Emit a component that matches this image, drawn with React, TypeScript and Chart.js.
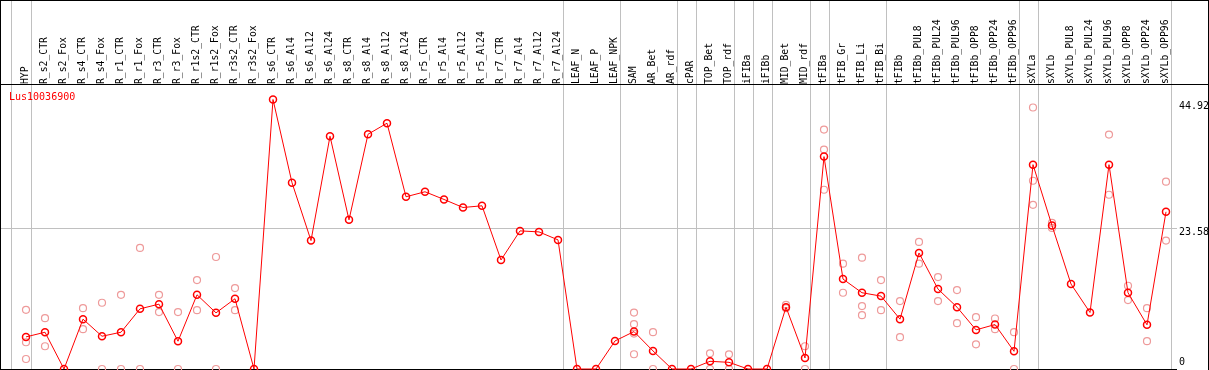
import React, { useEffect, useRef } from 'react';
import { Chart, registerables } from 'chart.js';

Chart.register(...registerables);

const _ = null;

const seriesName = 'Lus10036900';

const categories = [
  'HYP', 'R_s2_CTR', 'R_s2_Fox', 'R_s4_CTR', 'R_s4_Fox', 'R_r1_CTR', 'R_r1_Fox', 'R_r3_CTR', 'R_r3_Fox', 'R_r1s2_CTR',
  'R_r1s2_Fox', 'R_r3s2_CTR', 'R_r3s2_Fox', 'R_s6_CTR', 'R_s6_Al4', 'R_s6_Al12', 'R_s6_Al24', 'R_s8_CTR', 'R_s8_Al4', 'R_s8_Al12',
  'R_s8_Al24', 'R_r5_CTR', 'R_r5_Al4', 'R_r5_Al12', 'R_r5_Al24', 'R_r7_CTR', 'R_r7_Al4', 'R_r7_Al12', 'R_r7_Al24', 'LEAF_N',
  'LEAF_P', 'LEAF_NPK', 'SAM', 'AR_Bet', 'AR_rdf', 'cPAR', 'TOP_Bet', 'TOP_rdf', 'iFIBa', 'iFIBb',
  'MID_Bet', 'MID_rdf', 'tFIBa', 'tFIB_Gr', 'tFIB_Li', 'tFIB_Bi', 'tFIBb', 'tFIBb_PUL8', 'tFIBb_PUL24', 'tFIBb_PUL96',
  'tFIBb_OPP8', 'tFIBb_OPP24', 'tFIBb_OPP96', 'sXYLa', 'sXYLb', 'sXYLb_PUL8', 'sXYLb_PUL24', 'sXYLb_PUL96', 'sXYLb_OPP8', 'sXYLb_OPP24',
  'sXYLb_OPP96',
];

const meanValues = [
  5.35, 6.13, 0, 8.31, 5.46, 6.13, 10.03, 10.81, 4.63, 12.37,
  9.36, 11.71, 0, 44.92, 31.05, 21.4, 38.8, 24.86, 39.13, 40.97,
  28.71, 29.54, 28.26, 26.92, 27.2, 18.17, 23.02, 22.85, 21.52, 0,
  0, 4.68, 6.24, 3.01, 0, 0, 1.28, 1.11, 0, 0,
  10.31, 1.84, 35.4, 14.99, 12.71, 12.15, 8.31, 19.34, 13.32, 10.31,
  6.52, 7.41, 2.95, 34.06, 23.91, 14.16, 9.42, 34.06, 12.71, 7.36,
  26.2,
];

const replicate1 = [
  9.87, 8.47, _, 10.14, 11.04, 12.37, 20.18, 12.37, 9.48, 14.83,
  18.67, 13.49, _, _, _, _, _, _, _, _,
  _, _, _, _, _, _, _, _, _, _,
  _, _, 9.41, 6.13, _, _, 2.62, 2.45, _, _,
  10.7, 3.79, 39.91, 17.56, 18.56, 14.83, 11.32, 21.18, 15.33, 13.15,
  8.64, 8.42, 6.13, 43.59, 24.36, _, _, 39.08, 13.88, 10.14,
  31.22,
];

const replicate2 = [
  4.46, 3.79, _, 6.63, 0, 0, 0, 9.48, 0, 9.81,
  0, 9.81, _, _, _, _, _, _, _, _,
  _, _, _, _, _, _, _, _, _, _,
  _, _, 7.47, 0, _, _, 0, 0, _, _,
  10.14, 0, 36.57, 12.71, 10.48, 9.81, 5.3, 17.56, 11.32, 7.64,
  4.12, 6.63, 0, 31.38, 23.52, _, _, 29.04, 11.48, 4.63,
  21.4,
];

const replicate3 = [
  1.67, _, _, _, _, _, _, _, _, _,
  _, _, _, _, _, _, _, _, _, _,
  _, _, _, _, _, _, _, _, _, _,
  _, _, 5.9, _, _, _, _, _, _, _,
  _, _, 29.88, _, 8.97, _, _, _, _, _,
  _, _, _, 27.37, _, _, _, _, _, _,
  _,
];

const replicate4 = [
  _, _, _, _, _, _, _, _, _, _,
  _, _, _, _, _, _, _, _, _, _,
  _, _, _, _, _, _, _, _, _, _,
  _, _, 2.46, _, _, _, _, _, _, _,
  _, _, _, _, _, _, _, _, _, _,
  _, _, _, _, _, _, _, _, _, _,
  _,
];

const yTickValues = [0, 23.58, 44.92];
const yTickLabels = ['0', '23.58', '44.92'];
const gridValue = 23.58;

// category boundaries (in category index units) where grey separators are drawn
const separatorPositions = [-0.8, 0.25, 28.25, 31.25, 34.25, 35.25, 37.25, 38.25, 39.25, 41.25, 42.25, 45.25, 52.25, 53.25, 60.25];

const FONT = '"DejaVu Sans Mono", monospace';
const W = 1209;
const H = 370;

// per-tick vertical nudge of the right-hand labels (px, + = down)
const yLabelNudge = [-7, 5, 7];

export default function App() {
  const canvasRef = useRef<HTMLCanvasElement | null>(null);

  useEffect(() => {
    const canvas = canvasRef.current;
    if (!canvas) return;

    const replicatePoints: { x: string; y: number }[] = [];
    [replicate1, replicate2, replicate3, replicate4].forEach((rep) => {
      rep.forEach((v, i) => {
        if (v !== null && v !== undefined) replicatePoints.push({ x: categories[i], y: v as number });
      });
    });

    const framePlugin = {
      id: 'frame',
      beforeDatasetsDraw(chart: any) {
        const { ctx, chartArea, scales } = chart;
        const xs = scales.x;
        const ys = scales.y;
        ctx.save();
        ctx.fillStyle = '#c0c0c0';
        const gy = Math.round(ys.getPixelForValue(gridValue));
        ctx.fillRect(0, gy, chartArea.right + 1.5, 1);
        separatorPositions.forEach((p) => {
          const px = Math.round(xs.getPixelForValue(p));
          ctx.fillRect(px, 0, 1, chartArea.bottom);
        });
        ctx.fillStyle = '#000000';
        ctx.fillRect(0, 0, W, 1);
        ctx.fillRect(0, 0, 1, H);
        ctx.fillRect(W - 1, 0, 1, H);
        ctx.fillRect(0, 84, W, 1);
        ctx.fillRect(0, Math.round(chartArea.bottom), chartArea.right + 1.5, 1);
        ctx.fillStyle = '#ff0000';
        ctx.font = '10px ' + FONT;
        ctx.textBaseline = 'middle';
        ctx.textAlign = 'left';
        ctx.fillText(seriesName, 9, chartArea.top + 11);
        ctx.restore();
      },
    };

    const chart = new Chart(canvas, {
      type: 'line',
      data: {
        labels: categories,
        datasets: [
          {
            label: seriesName,
            data: meanValues,
            borderColor: '#ff0000',
            borderWidth: 1,
            pointRadius: 3.5,
            pointBorderWidth: 1.5,
            pointBorderColor: '#ff0000',
            pointBackgroundColor: 'rgba(0,0,0,0)',
            tension: 0,
            clip: false as any,
            order: 0,
          },
          {
            label: 'replicates',
            data: replicatePoints as any,
            showLine: false,
            borderColor: '#ee9a9a',
            pointRadius: 3.5,
            pointBorderWidth: 1.2,
            pointBorderColor: '#ee9a9a',
            pointBackgroundColor: 'rgba(0,0,0,0)',
            clip: false as any,
            order: 1,
          },
        ],
      },
      options: {
        animation: false,
        responsive: false,
        devicePixelRatio: 1,
        events: [],
        layout: { autoPadding: false, padding: { left: 16.5, right: 0, top: 0, bottom: 1 } },
        plugins: {
          legend: { display: false },
          tooltip: { enabled: false },
          title: { display: false },
        },
        scales: {
          x: {
            type: 'category',
            position: 'top',
            offset: true,
            grid: { display: false, drawTicks: false },
            border: { display: false },
            ticks: {
              autoSkip: false,
              minRotation: 90,
              maxRotation: 90,
              padding: 2,
              labelOffset: 11,
              color: '#000000',
              font: { family: FONT, size: 9.75 },
            },
            afterFit: (scale: any) => {
              scale.height = 86;
              scale.paddingLeft = 0;
              scale.paddingRight = 0;
            },
          },
          y: {
            type: 'linear',
            position: 'right',
            min: 0,
            max: 47.17,
            grid: { display: false, drawTicks: false },
            border: { display: false },
            afterBuildTicks: (scale: any) => {
              scale.ticks = yTickValues.map((v) => ({ value: v }));
            },
            ticks: {
              padding: 3.5,
              color: '#000000',
              callback: (_v: any, i: number) => {
                const t = yTickLabels[i];
                return yLabelNudge[i] < 0 ? [t, ''] : ['', t];
              },
              font: (ctx: any) => ({
                family: FONT,
                size: 10,
                lineHeight: Math.abs(yLabelNudge[ctx.index] ?? 0) * 2 + 'px',
              }),
            },
            afterFit: (scale: any) => {
              scale.width = 33.5;
              scale.paddingTop = 0;
              scale.paddingBottom = 0;
            },
          },
        },
      },
      plugins: [framePlugin],
    });

    return () => {
      chart.destroy();
    };
  }, []);

  return (
    <div style={{ position: 'absolute', left: 0, top: 0, width: W, height: H, background: '#ffffff' }}>
      <canvas ref={canvasRef} width={W} height={H} style={{ display: 'block', width: W, height: H }} />
    </div>
  );
}
